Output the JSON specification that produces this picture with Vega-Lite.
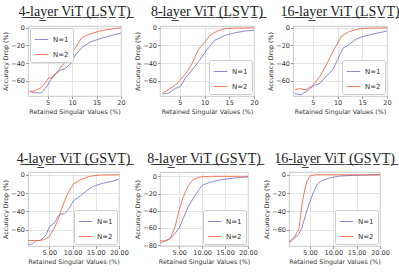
{
  "$schema": "https://vega.github.io/schema/vega-lite/v6.json",
  "padding": {"left": 2, "top": 4, "right": 2, "bottom": 2},
  "background": "white",
  "datasets": {
    "d": [
      {"p": 1, "N": "N=1", "x": 1.3, "y": -72}, {"p": 1, "N": "N=1", "x": 2.5, "y": -73.5}, {"p": 1, "N": "N=1", "x": 3.7, "y": -73.5}, {"p": 1, "N": "N=1", "x": 5, "y": -65}, {"p": 1, "N": "N=1", "x": 6.2, "y": -53.5}, {"p": 1, "N": "N=1", "x": 7.6, "y": -48}, {"p": 1, "N": "N=1", "x": 8.6, "y": -46}, {"p": 1, "N": "N=1", "x": 9.6, "y": -41}, {"p": 1, "N": "N=1", "x": 10.8, "y": -30}, {"p": 1, "N": "N=1", "x": 12, "y": -22.5}, {"p": 1, "N": "N=1", "x": 13.7, "y": -16}, {"p": 1, "N": "N=1", "x": 15.4, "y": -13}, {"p": 1, "N": "N=1", "x": 17.4, "y": -9.5}, {"p": 1, "N": "N=1", "x": 20, "y": -6},
      {"p": 1, "N": "N=2", "x": 1.3, "y": -72}, {"p": 1, "N": "N=2", "x": 2.5, "y": -71}, {"p": 1, "N": "N=2", "x": 3.7, "y": -67.5}, {"p": 1, "N": "N=2", "x": 4.5, "y": -62}, {"p": 1, "N": "N=2", "x": 5.2, "y": -57}, {"p": 1, "N": "N=2", "x": 6, "y": -56}, {"p": 1, "N": "N=2", "x": 6.7, "y": -52.5}, {"p": 1, "N": "N=2", "x": 7.9, "y": -43}, {"p": 1, "N": "N=2", "x": 9.3, "y": -35}, {"p": 1, "N": "N=2", "x": 10.5, "y": -24}, {"p": 1, "N": "N=2", "x": 12, "y": -11}, {"p": 1, "N": "N=2", "x": 13.4, "y": -7.5}, {"p": 1, "N": "N=2", "x": 15.4, "y": -4}, {"p": 1, "N": "N=2", "x": 17.4, "y": -2}, {"p": 1, "N": "N=2", "x": 20, "y": 0},

      {"p": 2, "N": "N=1", "x": 1.5, "y": -75}, {"p": 2, "N": "N=1", "x": 2.8, "y": -73.5}, {"p": 2, "N": "N=1", "x": 4.1, "y": -68.5}, {"p": 2, "N": "N=1", "x": 5.1, "y": -66.5}, {"p": 2, "N": "N=1", "x": 6.1, "y": -57}, {"p": 2, "N": "N=1", "x": 7.5, "y": -47.5}, {"p": 2, "N": "N=1", "x": 8.8, "y": -38}, {"p": 2, "N": "N=1", "x": 10.5, "y": -24.7}, {"p": 2, "N": "N=1", "x": 12.1, "y": -14}, {"p": 2, "N": "N=1", "x": 14.1, "y": -8.7}, {"p": 2, "N": "N=1", "x": 16.1, "y": -5.7}, {"p": 2, "N": "N=1", "x": 18.1, "y": -3.8}, {"p": 2, "N": "N=1", "x": 20, "y": -2.7},
      {"p": 2, "N": "N=2", "x": 1.5, "y": -74}, {"p": 2, "N": "N=2", "x": 2.8, "y": -69.5}, {"p": 2, "N": "N=2", "x": 4.1, "y": -64.6}, {"p": 2, "N": "N=2", "x": 5.1, "y": -59}, {"p": 2, "N": "N=2", "x": 6.5, "y": -49.4}, {"p": 2, "N": "N=2", "x": 7.5, "y": -40}, {"p": 2, "N": "N=2", "x": 8.8, "y": -24}, {"p": 2, "N": "N=2", "x": 10, "y": -17}, {"p": 2, "N": "N=2", "x": 11.1, "y": -8.4}, {"p": 2, "N": "N=2", "x": 12.5, "y": -3.8}, {"p": 2, "N": "N=2", "x": 14.1, "y": -1.1}, {"p": 2, "N": "N=2", "x": 16.1, "y": -0.4}, {"p": 2, "N": "N=2", "x": 20, "y": 0},

      {"p": 3, "N": "N=1", "x": 1.3, "y": -74.4}, {"p": 3, "N": "N=1", "x": 2.6, "y": -75.6}, {"p": 3, "N": "N=1", "x": 4, "y": -70.6}, {"p": 3, "N": "N=1", "x": 5.3, "y": -65}, {"p": 3, "N": "N=1", "x": 6.4, "y": -63}, {"p": 3, "N": "N=1", "x": 7.7, "y": -55}, {"p": 3, "N": "N=1", "x": 9.1, "y": -47}, {"p": 3, "N": "N=1", "x": 10, "y": -36}, {"p": 3, "N": "N=1", "x": 11.1, "y": -23}, {"p": 3, "N": "N=1", "x": 12.1, "y": -20}, {"p": 3, "N": "N=1", "x": 13.4, "y": -14}, {"p": 3, "N": "N=1", "x": 14.8, "y": -10.3}, {"p": 3, "N": "N=1", "x": 17.2, "y": -7}, {"p": 3, "N": "N=1", "x": 20, "y": -3.8},
      {"p": 3, "N": "N=2", "x": 1.3, "y": -70}, {"p": 3, "N": "N=2", "x": 2.3, "y": -68.7}, {"p": 3, "N": "N=2", "x": 3.6, "y": -70}, {"p": 3, "N": "N=2", "x": 5, "y": -65}, {"p": 3, "N": "N=2", "x": 6.4, "y": -55.3}, {"p": 3, "N": "N=2", "x": 7.7, "y": -42}, {"p": 3, "N": "N=2", "x": 9.1, "y": -26.7}, {"p": 3, "N": "N=2", "x": 10.8, "y": -9.5}, {"p": 3, "N": "N=2", "x": 12.4, "y": -4.2}, {"p": 3, "N": "N=2", "x": 14.5, "y": -1.1}, {"p": 3, "N": "N=2", "x": 16.5, "y": -0.4}, {"p": 3, "N": "N=2", "x": 20, "y": 0},

      {"p": 4, "N": "N=1", "x": 0.4, "y": -76}, {"p": 4, "N": "N=1", "x": 1.3, "y": -76}, {"p": 4, "N": "N=1", "x": 2.2, "y": -72}, {"p": 4, "N": "N=1", "x": 3.1, "y": -72}, {"p": 4, "N": "N=1", "x": 4.3, "y": -66}, {"p": 4, "N": "N=1", "x": 5, "y": -57}, {"p": 4, "N": "N=1", "x": 6.1, "y": -52.6}, {"p": 4, "N": "N=1", "x": 7.2, "y": -43.3}, {"p": 4, "N": "N=1", "x": 8.2, "y": -42.6}, {"p": 4, "N": "N=1", "x": 9.1, "y": -37.8}, {"p": 4, "N": "N=1", "x": 10.2, "y": -28.5}, {"p": 4, "N": "N=1", "x": 11.7, "y": -23}, {"p": 4, "N": "N=1", "x": 13.1, "y": -17.4}, {"p": 4, "N": "N=1", "x": 14.3, "y": -13}, {"p": 4, "N": "N=1", "x": 16.5, "y": -9.3}, {"p": 4, "N": "N=1", "x": 18.7, "y": -7}, {"p": 4, "N": "N=1", "x": 20, "y": -4.8},
      {"p": 4, "N": "N=2", "x": 0.4, "y": -72}, {"p": 4, "N": "N=2", "x": 2.8, "y": -72}, {"p": 4, "N": "N=2", "x": 3.9, "y": -71}, {"p": 4, "N": "N=2", "x": 5, "y": -67.4}, {"p": 4, "N": "N=2", "x": 6, "y": -59}, {"p": 4, "N": "N=2", "x": 6.9, "y": -49}, {"p": 4, "N": "N=2", "x": 8, "y": -32}, {"p": 4, "N": "N=2", "x": 9.1, "y": -19}, {"p": 4, "N": "N=2", "x": 10.2, "y": -10}, {"p": 4, "N": "N=2", "x": 11.7, "y": -5.6}, {"p": 4, "N": "N=2", "x": 13.5, "y": -1.9}, {"p": 4, "N": "N=2", "x": 15.7, "y": -0.4}, {"p": 4, "N": "N=2", "x": 20, "y": 0},

      {"p": 5, "N": "N=1", "x": 0.8, "y": -77.7}, {"p": 5, "N": "N=1", "x": 1.9, "y": -75}, {"p": 5, "N": "N=1", "x": 3, "y": -72.4}, {"p": 5, "N": "N=1", "x": 4.1, "y": -66.3}, {"p": 5, "N": "N=1", "x": 5, "y": -60}, {"p": 5, "N": "N=1", "x": 5.9, "y": -48.4}, {"p": 5, "N": "N=1", "x": 7, "y": -35}, {"p": 5, "N": "N=1", "x": 8.5, "y": -21.7}, {"p": 5, "N": "N=1", "x": 10, "y": -10.3}, {"p": 5, "N": "N=1", "x": 12, "y": -6.5}, {"p": 5, "N": "N=1", "x": 14.3, "y": -3.8}, {"p": 5, "N": "N=1", "x": 17.2, "y": -1.9}, {"p": 5, "N": "N=1", "x": 20, "y": -0.8},
      {"p": 5, "N": "N=2", "x": 0.8, "y": -75}, {"p": 5, "N": "N=2", "x": 2.2, "y": -75}, {"p": 5, "N": "N=2", "x": 3, "y": -72.4}, {"p": 5, "N": "N=2", "x": 4.1, "y": -58.7}, {"p": 5, "N": "N=2", "x": 5, "y": -38.9}, {"p": 5, "N": "N=2", "x": 5.9, "y": -23.6}, {"p": 5, "N": "N=2", "x": 7, "y": -10.3}, {"p": 5, "N": "N=2", "x": 8.1, "y": -3.8}, {"p": 5, "N": "N=2", "x": 9.5, "y": -0.8}, {"p": 5, "N": "N=2", "x": 12, "y": 0}, {"p": 5, "N": "N=2", "x": 20, "y": 0},

      {"p": 6, "N": "N=1", "x": 0.6, "y": -74.8}, {"p": 6, "N": "N=1", "x": 1.5, "y": -70}, {"p": 6, "N": "N=1", "x": 2.5, "y": -65.5}, {"p": 6, "N": "N=1", "x": 3.2, "y": -59}, {"p": 6, "N": "N=1", "x": 4, "y": -45}, {"p": 6, "N": "N=1", "x": 4.8, "y": -32}, {"p": 6, "N": "N=1", "x": 5.6, "y": -21}, {"p": 6, "N": "N=1", "x": 6.6, "y": -10}, {"p": 6, "N": "N=1", "x": 7.6, "y": -6.3}, {"p": 6, "N": "N=1", "x": 9.1, "y": -3.7}, {"p": 6, "N": "N=1", "x": 11.2, "y": -1.5}, {"p": 6, "N": "N=1", "x": 14.1, "y": -0.7}, {"p": 6, "N": "N=1", "x": 20, "y": 0},
      {"p": 6, "N": "N=2", "x": 0.6, "y": -73}, {"p": 6, "N": "N=2", "x": 1.5, "y": -69.3}, {"p": 6, "N": "N=2", "x": 2.6, "y": -60}, {"p": 6, "N": "N=2", "x": 3.3, "y": -32}, {"p": 6, "N": "N=2", "x": 3.9, "y": -15.6}, {"p": 6, "N": "N=2", "x": 4.4, "y": -6.3}, {"p": 6, "N": "N=2", "x": 5.1, "y": -1.1}, {"p": 6, "N": "N=2", "x": 6.2, "y": 0}, {"p": 6, "N": "N=2", "x": 20, "y": 0}
    ]
  },
  "data": {"name": "d"},
  "vconcat": [
    {
      "hconcat": [
        {
          "title": "4̲-̲l̲a̲y̲e̲r̲ ̲V̲i̲T̲ ̲(̲L̲S̲V̲T̲)̲",
          "width": 93, "height": 70,
          "transform": [{"filter": "datum.p == 1"}],
          "mark": {"type": "line", "strokeWidth": 1, "clip": true, "opacity": 0.85},
          "encoding": {
            "x": {"field": "x", "type": "quantitative", "scale": {"domain": [1, 20], "nice": false, "zero": false}, "axis": {"values": [5, 10, 15, 20], "title": "Retained Singular Values (%)"}},
            "y": {"field": "y", "type": "quantitative", "scale": {"domain": [-77, 2], "nice": false, "zero": false}, "axis": {"values": [-60, -40, -20, 0], "title": "Accuracy Drop (%)"}},
            "color": {"field": "N", "type": "nominal", "scale": {"domain": ["N=1", "N=2"], "range": ["#7b73c9", "#f5643f"]}, "legend": {"orient": "top-left", "offset": 2}}
          }
        },
        {
          "title": "8̲-̲l̲a̲y̲e̲r̲ ̲V̲i̲T̲ ̲(̲L̲S̲V̲T̲)̲",
          "width": 94, "height": 70,
          "transform": [{"filter": "datum.p == 2"}],
          "mark": {"type": "line", "strokeWidth": 1, "clip": true, "opacity": 0.85},
          "encoding": {
            "x": {"field": "x", "type": "quantitative", "scale": {"domain": [1, 20], "nice": false, "zero": false}, "axis": {"values": [5, 10, 15, 20], "title": "Retained Singular Values (%)"}},
            "y": {"field": "y", "type": "quantitative", "scale": {"domain": [-77, 2], "nice": false, "zero": false}, "axis": {"values": [-60, -40, -20, 0], "title": "Accuracy Drop (%)"}},
            "color": {"field": "N", "type": "nominal", "scale": {"domain": ["N=1", "N=2"], "range": ["#7b73c9", "#f5643f"]}, "legend": {"orient": "bottom-right", "offset": 2}}
          }
        },
        {
          "title": "1̲6̲-̲l̲a̲y̲e̲r̲ ̲V̲i̲T̲ ̲(̲L̲S̲V̲T̲)̲",
          "width": 94, "height": 70,
          "transform": [{"filter": "datum.p == 3"}],
          "mark": {"type": "line", "strokeWidth": 1, "clip": true, "opacity": 0.85},
          "encoding": {
            "x": {"field": "x", "type": "quantitative", "scale": {"domain": [1, 20], "nice": false, "zero": false}, "axis": {"values": [5, 10, 15, 20], "title": "Retained Singular Values (%)"}},
            "y": {"field": "y", "type": "quantitative", "scale": {"domain": [-77, 2], "nice": false, "zero": false}, "axis": {"values": [-60, -40, -20, 0], "title": "Accuracy Drop (%)"}},
            "color": {"field": "N", "type": "nominal", "scale": {"domain": ["N=1", "N=2"], "range": ["#7b73c9", "#f5643f"]}, "legend": {"orient": "bottom-right", "offset": 2}}
          }
        }
      ],
      "spacing": 39,
      "bounds": "flush",
      "resolve": {"scale": {"color": "independent"}, "legend": {"color": "independent"}}
    },
    {
      "hconcat": [
        {
          "title": "4̲-̲l̲a̲y̲e̲r̲ ̲V̲i̲T̲ ̲(̲G̲S̲V̲T̲)̲",
          "width": 91, "height": 74,
          "transform": [{"filter": "datum.p == 4"}],
          "mark": {"type": "line", "strokeWidth": 1, "clip": true, "opacity": 0.85},
          "encoding": {
            "x": {"field": "x", "type": "quantitative", "scale": {"domain": [0.4, 20], "nice": false, "zero": false}, "axis": {"values": [5, 10, 15, 20], "format": ".2f", "title": "Retained Singular Values (%)"}},
            "y": {"field": "y", "type": "quantitative", "scale": {"domain": [-78, 3], "nice": false, "zero": false}, "axis": {"values": [-60, -40, -20, 0], "title": "Accuracy Drop (%)"}},
            "color": {"field": "N", "type": "nominal", "scale": {"domain": ["N=1", "N=2"], "range": ["#7b73c9", "#f5643f"]}, "legend": {"orient": "bottom-right", "offset": 2}}
          }
        },
        {
          "title": "8̲-̲l̲a̲y̲e̲r̲ ̲V̲i̲T̲ ̲(̲G̲S̲V̲T̲)̲",
          "width": 88, "height": 74,
          "transform": [{"filter": "datum.p == 5"}],
          "mark": {"type": "line", "strokeWidth": 1, "clip": true, "opacity": 0.85},
          "encoding": {
            "x": {"field": "x", "type": "quantitative", "scale": {"domain": [0.8, 20], "nice": false, "zero": false}, "axis": {"values": [5, 10, 15, 20], "format": ".2f", "title": "Retained Singular Values (%)"}},
            "y": {"field": "y", "type": "quantitative", "scale": {"domain": [-81, 5], "nice": false, "zero": false}, "axis": {"values": [-80, -60, -40, -20, 0], "title": "Accuracy Drop (%)"}},
            "color": {"field": "N", "type": "nominal", "scale": {"domain": ["N=1", "N=2"], "range": ["#7b73c9", "#f5643f"]}, "legend": {"orient": "bottom-right", "offset": 2}}
          }
        },
        {
          "title": "1̲6̲-̲l̲a̲y̲e̲r̲ ̲V̲i̲T̲ ̲(̲G̲S̲V̲T̲)̲",
          "width": 91, "height": 74,
          "transform": [{"filter": "datum.p == 6"}],
          "mark": {"type": "line", "strokeWidth": 1, "clip": true, "opacity": 0.85},
          "encoding": {
            "x": {"field": "x", "type": "quantitative", "scale": {"domain": [0.5, 20], "nice": false, "zero": false}, "axis": {"values": [5, 10, 15, 20], "format": ".2f", "title": "Retained Singular Values (%)"}},
            "y": {"field": "y", "type": "quantitative", "scale": {"domain": [-78, 3], "nice": false, "zero": false}, "axis": {"values": [-60, -40, -20, 0], "title": "Accuracy Drop (%)"}},
            "color": {"field": "N", "type": "nominal", "scale": {"domain": ["N=1", "N=2"], "range": ["#7b73c9", "#f5643f"]}, "legend": {"orient": "bottom-right", "offset": 2}}
          }
        }
      ],
      "spacing": 41,
      "bounds": "flush",
      "resolve": {"scale": {"color": "independent"}, "legend": {"color": "independent"}}
    }
  ],
  "spacing": 36,
  "resolve": {"scale": {"color": "independent"}, "legend": {"color": "independent"}},
  "config": {
    "view": {"stroke": "#bbbbbb", "strokeWidth": 0.8},
    "title": {"font": "Liberation Serif", "fontSize": 14, "fontWeight": "normal", "color": "#222222", "offset": 6},
    "axis": {
      "labelFont": "DejaVu Sans", "labelFontSize": 6.5, "labelColor": "#333333",
      "titleFont": "DejaVu Sans", "titleFontSize": 6.3, "titleFontWeight": "normal", "titleColor": "#333333",
      "gridColor": "#dddddd", "gridWidth": 0.8, "domain": false,
      "tickColor": "#555555", "tickSize": 2.5, "tickWidth": 0.6,
      "labelPadding": 1, "titlePadding": 2, "labelFlush": false
    },
    "legend": {
      "title": null, "labelFont": "DejaVu Sans", "labelFontSize": 7, "labelColor": "#333333",
      "symbolType": "stroke", "symbolSize": 180, "symbolStrokeWidth": 1,
      "strokeColor": "#cccccc", "fillColor": "white", "padding": 4, "rowPadding": 4,
      "cornerRadius": 2
    }
  }
}
